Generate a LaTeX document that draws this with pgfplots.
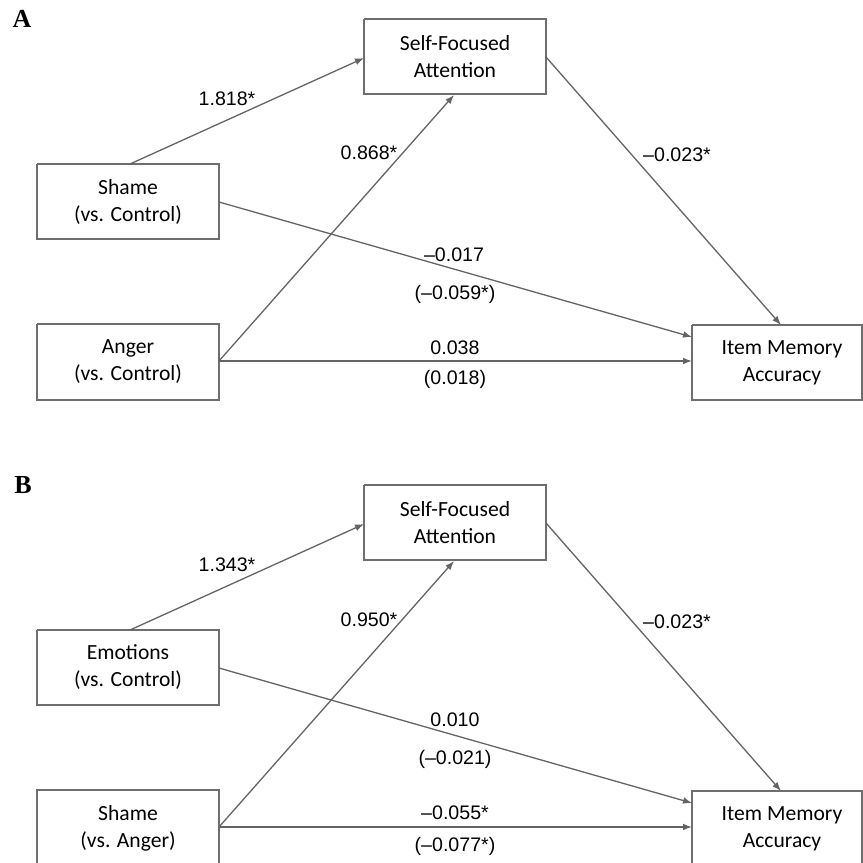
\documentclass[border=0pt]{standalone}
\usepackage{pgfplots}
\pgfplotsset{compat=1.18}
\usepackage{fontspec}
\setmainfont{Liberation Sans}
\newfontfamily\boxfont{Carlito}
\newfontfamily\panelfont{Liberation Serif}
\usetikzlibrary{arrows.meta}
\definecolor{linegray}{RGB}{100,100,100}
\definecolor{boxgray}{RGB}{110,110,110}
\tikzset{
  boxline/.style={draw=boxgray, line width=0.8pt, no marks},
  arr/.style={draw=linegray, line width=0.65pt, no marks, -{Latex[length=4.5pt,width=3.4pt]}},
  boxtxt/.style={font=\boxfont\fontsize{10.8}{13.5}\selectfont, align=center, text=black, anchor=center},
  num/.style={font=\fontsize{9.8}{11}\selectfont, text=black, anchor=base},
  panel/.style={font=\panelfont\bfseries\fontsize{13}{15}\selectfont, anchor=center},
}
\begin{document}
\begin{tikzpicture}
\begin{axis}[
  scale only axis, width=431.5pt, height=431.5pt,
  xmin=0, xmax=863, ymin=0, ymax=863, y dir=reverse,
  axis lines=none, clip=true,
]
% ---------------- Panel A ----------------
\addplot[boxline] coordinates {(364,19) (546,19) (546,94) (364,94) (364,19)};
\addplot[boxline] coordinates {(37,164) (219,164) (219,239) (37,239) (37,164)};
\addplot[boxline] coordinates {(37,324) (219,324) (219,400) (37,400) (37,324)};
\addplot[boxline] coordinates {(692,325) (862,325) (862,400) (692,400) (692,325)};
\addplot[arr] coordinates {(130,164) (364,58)};
\addplot[arr] coordinates {(219,361) (454,95)};
\addplot[arr] coordinates {(219,202) (692,337)};
\addplot[arr] coordinates {(219,361) (692,361)};
\addplot[arr] coordinates {(546,57) (781,325)};
\node[boxtxt] at (axis cs:455,56.5) {Self-Focused\\Attention};
\node[boxtxt] at (axis cs:128,201.5) {Shame\\(vs. Control)};
\node[boxtxt] at (axis cs:128,362) {Anger\\(vs. Control)};
\node[boxtxt] at (axis cs:782,363) {Item Memory\\Accuracy};
\node[num] at (axis cs:227,105.5) {1.818*};
\node[num] at (axis cs:369,159.5) {0.868*};
\node[num] at (axis cs:677,161.5) {--0.023*};
\node[num] at (axis cs:454,261.5) {--0.017};
\node[num] at (axis cs:455,299.5) {(--0.059*)};
\node[num] at (axis cs:455,354.5) {0.038};
\node[num] at (axis cs:455,384.5) {(0.018)};
\node[panel] at (axis cs:22,19) {A};
% ---------------- Panel B ----------------
\addplot[boxline] coordinates {(364,485) (546,485) (546,560) (364,560) (364,485)};
\addplot[boxline] coordinates {(37,630) (219,630) (219,705) (37,705) (37,630)};
\addplot[boxline] coordinates {(37,863) (37,790) (219,790) (219,863)};
\addplot[boxline] coordinates {(692,863) (692,791) (862,791) (862,863)};
\addplot[arr] coordinates {(130,630) (364,524)};
\addplot[arr] coordinates {(219,827) (454,561)};
\addplot[arr] coordinates {(219,668) (692,803)};
\addplot[arr] coordinates {(219,827) (692,827)};
\addplot[arr] coordinates {(546,523) (781,791)};
\node[boxtxt] at (axis cs:455,522.5) {Self-Focused\\Attention};
\node[boxtxt] at (axis cs:128,667.5) {Emotions\\(vs. Control)};
\node[boxtxt] at (axis cs:128,828) {Shame\\(vs. Anger)};
\node[boxtxt] at (axis cs:782,829) {Item Memory\\Accuracy};
\node[num] at (axis cs:227,571.5) {1.343*};
\node[num] at (axis cs:369,626) {0.950*};
\node[num] at (axis cs:677,628) {--0.023*};
\node[num] at (axis cs:455,726.5) {0.010};
\node[num] at (axis cs:455,764.5) {(--0.021)};
\node[num] at (axis cs:455,819.5) {--0.055*};
\node[num] at (axis cs:455,851) {(--0.077*)};
\node[panel] at (axis cs:23,485) {B};
\end{axis}
\pgfresetboundingbox
\useasboundingbox (current axis.south west) rectangle (current axis.north east);
\end{tikzpicture}
\end{document}
